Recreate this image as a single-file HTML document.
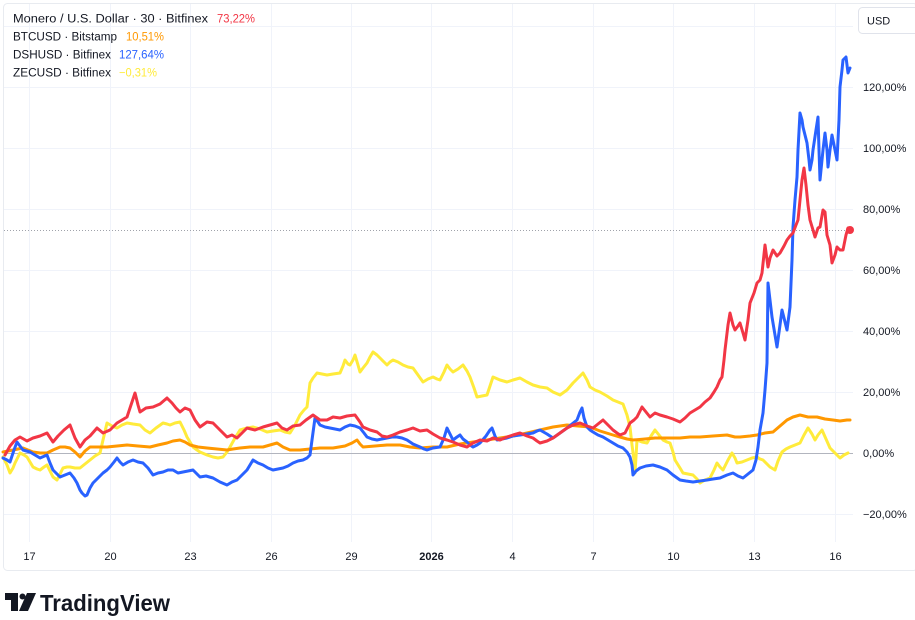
<!DOCTYPE html>
<html><head><meta charset="utf-8"><style>
html,body{margin:0;padding:0;background:#fff;width:915px;height:620px;overflow:hidden}
svg{display:block;font-family:"Liberation Sans",sans-serif}
</style></head><body>
<svg width="915" height="620" viewBox="0 0 915 620" xmlns="http://www.w3.org/2000/svg">
<rect x="0" y="0" width="915" height="620" fill="#fff"/>
<rect x="3.5" y="3.5" width="914" height="567" rx="4" fill="none" stroke="#e8ebf0" stroke-width="1"/>
<g stroke="#f0f3fa" stroke-width="1">
<line x1="4" y1="26.5" x2="853" y2="26.5"/>
<line x1="4" y1="87.5" x2="853" y2="87.5"/>
<line x1="4" y1="148.5" x2="853" y2="148.5"/>
<line x1="4" y1="209.5" x2="853" y2="209.5"/>
<line x1="4" y1="270.5" x2="853" y2="270.5"/>
<line x1="4" y1="331.5" x2="853" y2="331.5"/>
<line x1="4" y1="392.5" x2="853" y2="392.5"/>
<line x1="4" y1="514.5" x2="853" y2="514.5"/>
<line x1="29.5" y1="4" x2="29.5" y2="542"/>
<line x1="110.5" y1="4" x2="110.5" y2="542"/>
<line x1="190.5" y1="4" x2="190.5" y2="542"/>
<line x1="271.5" y1="4" x2="271.5" y2="542"/>
<line x1="351.5" y1="4" x2="351.5" y2="542"/>
<line x1="431.5" y1="4" x2="431.5" y2="542"/>
<line x1="512.5" y1="4" x2="512.5" y2="542"/>
<line x1="593.5" y1="4" x2="593.5" y2="542"/>
<line x1="673.5" y1="4" x2="673.5" y2="542"/>
<line x1="754.5" y1="4" x2="754.5" y2="542"/>
<line x1="835.5" y1="4" x2="835.5" y2="542"/>
</g>
<line x1="4" y1="453.5" x2="853" y2="453.5" stroke="#b2b5be" stroke-width="1"/>
<line x1="4" y1="230.5" x2="853" y2="230.5" stroke="#a0a3ab" stroke-width="1" stroke-dasharray="1,2"/>

<g fill="none" stroke-width="3" stroke-linejoin="round" stroke-linecap="round">
<polyline stroke="#ffeb3b" points="3,457 7,465 10,473 13,468 15,463 18,457 20,453 24,455 27,457 30,462 33,467 37,469 40,470 44,467 47,465 50,471 53,477 57,480 60,474 63,468 67,467 70,467 75,468 80,468 85,464 90,460 95,456 100,453 103,440 107,423 112,426 117,428 122,425 127,423 133,424 140,425 145,430 150,433 156,428 163,423 167,424 170,425 175,423 180,422 184,430 187,437 190,442 193,447 197,450 200,452 207,455 213,457 218,458 223,457 227,452 230,447 235,438 240,430 247,428 253,427 260,429 267,432 273,431 280,430 285,432 290,433 295,425 300,415 304,410 307,407 310,383 313,378 317,373 322,374 327,375 333,374 340,373 343,366 345,360 348,364 350,365 353,360 355,355 358,365 360,372 363,368 367,363 370,357 373,352 377,355 380,358 384,362 387,365 390,362 393,360 398,362 403,365 408,367 413,368 418,375 423,382 428,379 433,377 437,379 440,380 444,372 447,365 450,369 453,372 458,369 463,365 467,371 470,377 474,388 477,397 482,396 487,395 490,386 493,377 500,380 507,382 513,380 520,378 527,382 533,385 540,387 547,388 553,392 560,395 567,390 573,383 578,378 583,373 587,380 590,387 595,390 600,392 607,396 613,400 618,402 623,404 627,415 630,427 632,445 634,460 635,473 637,440 642,442 647,443 651,436 655,430 659,435 663,440 667,442 670,443 673,452 675,460 680,468 683,473 688,474 693,475 697,479 700,483 705,480 710,478 714,470 717,463 720,467 723,470 728,460 732,453 735,458 737,463 742,462 747,460 752,458 757,457 760,459 763,460 767,464 770,467 775,470 778,461 782,452 786,449 790,447 795,445 800,443 804,435 808,428 812,434 815,440 818,435 822,430 826,439 830,448 835,453 840,458 844,455 848,453"/>
<polyline stroke="#ff9800" points="3,452 8,451 13,450 18,449 23,448 28,450 33,452 40,453 47,453 53,450 60,447 65,447 70,448 75,452 80,457 85,451 90,447 98,447 107,447 117,446 127,445 138,446 150,447 158,445 167,443 173,441 180,440 185,442 190,445 198,447 207,448 217,449 227,450 233,449 240,448 250,447 263,447 270,445 277,443 283,447 290,450 300,450 310,449 320,448 333,448 345,446 352,443 357,440 360,444 363,447 375,446 387,445 400,445 410,447 420,448 433,447 447,447 460,444 473,442 487,440 500,438 513,436 527,433 540,430 553,427 567,425 578,426 590,427 600,431 613,435 620,437 627,439 633,440 645,439 655,438 667,438 680,438 690,437 700,437 713,436 727,435 735,437 740,437 750,436 757,435 765,433 773,432 780,426 787,420 793,417 800,415 808,417 817,417 825,419 833,420 840,421 847,420 850,420"/>
<polyline stroke="#2962ff" points="3,458 7,460 10,462 14,450 17,442 20,446 23,450 30,452 35,455 40,458 47,455 50,463 53,470 57,474 60,477 65,475 70,473 74,478 77,483 80,490 82,493 85,496 87,495 90,488 93,483 98,478 103,473 107,470 110,467 114,462 117,458 120,462 123,465 128,462 133,460 138,462 143,463 148,468 153,475 158,473 163,472 168,470 173,470 178,473 183,472 188,471 193,470 197,474 200,477 206,476 213,478 220,482 227,485 232,482 237,480 242,475 247,470 250,465 253,460 258,463 263,465 268,468 273,470 278,469 283,468 288,466 293,463 298,461 303,460 307,458 310,455 312,440 315,418 318,422 320,425 325,427 330,428 335,429 340,430 345,427 350,425 355,426 360,428 364,433 367,437 372,439 377,440 382,439 387,438 392,437 397,437 402,438 407,440 413,444 420,447 424,449 427,450 433,448 440,447 444,438 447,428 450,434 453,440 457,437 460,435 463,439 467,442 470,445 473,447 477,445 480,443 486,436 490,430 492,428 495,436 497,440 502,439 507,438 513,436 520,435 527,434 533,433 537,431 540,430 547,434 553,438 560,433 567,428 572,424 577,420 580,412 582,408 584,418 587,427 590,430 593,432 598,435 603,437 608,440 613,443 618,446 623,448 627,452 630,457 632,465 633,475 636,471 640,468 646,466 653,465 660,467 667,470 673,475 680,480 686,481 693,482 700,481 707,480 713,479 720,478 727,475 733,473 738,476 743,478 748,474 753,470 756,460 758,447 760,430 763,413 765,390 767,363 768,283 770,300 772,317 775,335 777,347 780,325 782,310 785,322 787,330 790,307 792,260 793,227 795,200 797,177 798,150 800,113 802,120 803,127 805,135 807,143 809,160 810,170 812,160 813,150 816,130 818,117 819,150 820,180 823,150 825,133 827,150 828,167 830,150 832,135 835,150 837,160 839,120 840,87 842,70 843,60 846,57 848,73 850,68"/>
<polyline stroke="#f23645" points="5,455 10,446 15,440 20,437 27,441 33,438 40,436 47,433 53,442 58,436 64,430 70,425 75,438 80,447 85,440 90,436 97,428 103,433 110,430 117,423 122,420 127,417 131,405 135,393 138,405 140,412 146,408 153,407 160,404 167,398 172,403 176,408 180,412 185,408 190,410 195,420 200,427 207,422 213,423 220,430 227,437 232,435 237,438 242,433 247,428 255,430 263,427 270,425 277,423 282,428 287,430 293,426 300,425 306,420 313,415 320,420 327,420 333,417 340,418 347,416 355,415 360,422 363,427 370,430 377,432 382,436 387,437 393,435 400,432 407,430 413,428 420,431 427,430 433,434 440,438 447,440 453,442 460,445 467,447 473,443 480,440 487,441 493,438 500,440 507,437 513,435 520,433 527,436 533,438 537,441 540,443 547,441 553,438 560,433 567,428 573,425 580,423 587,426 593,428 598,424 603,420 608,425 613,430 617,433 620,435 625,433 630,423 634,420 637,417 642,407 646,412 650,417 655,413 660,415 667,417 673,419 680,422 685,418 690,413 695,410 700,407 705,402 710,398 714,392 717,387 720,380 722,377 724,360 725,350 728,325 730,313 733,325 735,330 738,326 740,323 743,333 745,340 748,320 750,303 754,293 757,283 760,280 762,273 765,245 768,267 770,258 773,250 777,256 780,253 784,246 787,240 790,236 793,233 796,225 798,220 800,200 802,180 804,168 806,185 808,205 810,220 813,230 815,237 818,228 820,227 823,210 825,212 827,235 830,245 832,263 835,255 837,247 840,250 843,250 846,235 848,228 852,230"/>
</g>
<circle cx="850" cy="230" r="4" fill="#f23645"/>

<!-- Legend -->
<g font-size="11.5" fill="#131722">
<text x="13" y="22.5" textLength="195" lengthAdjust="spacingAndGlyphs">Monero / U.S. Dollar · 30 · Bitfinex</text>
<text x="217" y="22.5" fill="#f23645" textLength="38" lengthAdjust="spacingAndGlyphs">73,22%</text>
<text x="13" y="40.5" textLength="104" lengthAdjust="spacingAndGlyphs">BTCUSD · Bitstamp</text>
<text x="126" y="40.5" fill="#ff9800" textLength="38" lengthAdjust="spacingAndGlyphs">10,51%</text>
<text x="13" y="58.5" textLength="98" lengthAdjust="spacingAndGlyphs">DSHUSD · Bitfinex</text>
<text x="119" y="58.5" fill="#2962ff" textLength="45" lengthAdjust="spacingAndGlyphs">127,64%</text>
<text x="13" y="76.5" textLength="98" lengthAdjust="spacingAndGlyphs">ZECUSD · Bitfinex</text>
<text x="119" y="76.5" fill="#ffeb3b" textLength="38" lengthAdjust="spacingAndGlyphs">−0,31%</text>
</g>

<!-- USD box -->
<rect x="858.5" y="7.5" width="60" height="26" rx="4" fill="#fff" stroke="#e0e3eb"/>
<text x="867" y="24.5" font-size="11" fill="#131722">USD</text>

<!-- Right axis -->
<g font-size="11" fill="#131722">
<text x="863" y="91">120,00%</text>
<text x="863" y="152">100,00%</text>
<text x="863" y="213">80,00%</text>
<text x="863" y="274">60,00%</text>
<text x="863" y="335">40,00%</text>
<text x="863" y="396">20,00%</text>
<text x="863" y="457">0,00%</text>
<text x="863" y="518">−20,00%</text>
</g>

<!-- Time axis -->
<g font-size="11" fill="#131722" text-anchor="middle">
<text x="29.5" y="560">17</text>
<text x="110.5" y="560">20</text>
<text x="190.5" y="560">23</text>
<text x="271.5" y="560">26</text>
<text x="351.5" y="560">29</text>
<text x="431.5" y="560" font-weight="bold">2026</text>
<text x="512.5" y="560">4</text>
<text x="593.5" y="560">7</text>
<text x="673.5" y="560">10</text>
<text x="754.5" y="560">13</text>
<text x="835.5" y="560">16</text>
</g>

<!-- Logo -->
<g fill="#131722">
<path d="M5,593 H18 V611 H11 V600 H5 Z"/>
<circle cx="22.5" cy="596.5" r="3"/>
<path d="M27,593 H36 L28,611 H19 Z"/>
</g>
<text x="40" y="611" font-size="23" font-weight="bold" fill="#131722" textLength="130" lengthAdjust="spacingAndGlyphs">TradingView</text>
</svg>
</body></html>
